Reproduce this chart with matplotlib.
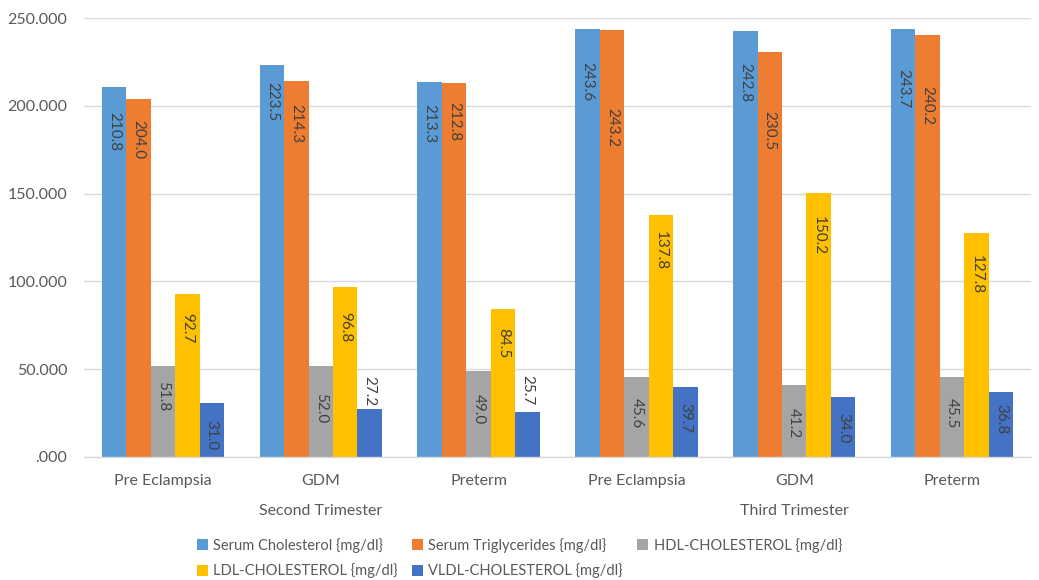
import matplotlib
matplotlib.use("Agg")
import matplotlib.pyplot as plt
from matplotlib.ticker import FuncFormatter, MultipleLocator
import numpy as np

categories = ["Pre Eclampsia", "GDM", "Preterm", "Pre Eclampsia", "GDM", "Preterm"]
trimesters = ["Second Trimester", "Third Trimester"]
series_names = ["Serum Cholesterol {mg/dl}", "Serum Triglycerides {mg/dl}",
                "HDL-CHOLESTEROL {mg/dl}", "LDL-CHOLESTEROL {mg/dl}",
                "VLDL-CHOLESTEROL {mg/dl}"]
serum_cholesterol = [210.8, 223.5, 213.3, 243.6, 242.8, 243.7]
serum_triglycerides = [204.0, 214.3, 212.8, 243.2, 230.5, 240.2]
hdl_cholesterol = [51.8, 52.0, 49.0, 45.6, 41.2, 45.5]
ldl_cholesterol = [92.7, 96.8, 84.5, 137.8, 150.2, 127.8]
vldl_cholesterol = [31.0, 27.2, 25.7, 39.7, 34.0, 36.8]

series = [serum_cholesterol, serum_triglycerides, hdl_cholesterol,
          ldl_cholesterol, vldl_cholesterol]
colors = ["#5B9BD5", "#ED7D31", "#A5A5A5", "#FFC000", "#4472C4"]

# label centre distance below bar top (pixels); negative = above bar
label_offsets = [
    [45, 37, 41, 52, 52, 59],
    [41, 43, 38, 98, 78, 70],
    [30, 42, 38, 36, 38, 36],
    [34, 40, 35, 36, 42, 42],
    [33, -18, -22, 31, 31, 27],
]

plt.rcParams['font.family'] = ['Lato', 'DejaVu Sans']
text_color = "#595959"

fig = plt.figure(figsize=(10.39, 5.80), dpi=100)
ax = fig.add_axes([84 / 1039, (580 - 457) / 580, (1031 - 84) / 1039, (457 - 18) / 580])

x = np.arange(len(categories))
w = 0.155
handles = []
for j, (vals, col, name) in enumerate(zip(series, colors, series_names)):
    xs = x + (j - 2) * w
    b = ax.bar(xs, vals, width=w, color=col, label=name, zorder=2)
    handles.append(b)
    for xi, v, off in zip(xs, vals, label_offsets[j]):
        ax.annotate(f"{v:.1f}", xy=(xi, v), xytext=(0, -off),
                    textcoords='offset pixels', rotation=270,
                    ha='center', va='center', fontsize=11, color="#404040",
                    zorder=3)

ax.set_xlim(-0.5, len(categories) - 0.5)
ax.set_ylim(0, 250)
ax.yaxis.set_major_locator(MultipleLocator(50))
ax.yaxis.set_major_formatter(FuncFormatter(
    lambda v, p: (f"{v:.3f}" if v != 0 else ".000")))
ax.grid(axis='y', color="#D9D9D9", linewidth=1, zorder=0)
for s in ["top", "right", "left"]:
    ax.spines[s].set_visible(False)
ax.spines["bottom"].set_color("#D9D9D9")
ax.spines["bottom"].set_linewidth(1)
ax.tick_params(axis='both', length=0, labelsize=11.5, labelcolor=text_color)
ax.tick_params(axis='y', pad=12)
ax.tick_params(axis='x', pad=12)
ax.set_xticks(x)
ax.set_xticklabels(categories)

for k, t in enumerate(trimesters):
    ax.annotate(t, xy=(3 * k + 1, 0), xycoords=('data', 'axes fraction'),
                xytext=(0, -54), textcoords='offset pixels',
                ha='center', va='center', fontsize=11.5, color=text_color)

order = [0, 3, 1, 4, 2]
fig.legend([handles[i] for i in order], [series_names[i] for i in order],
           loc='center', bbox_to_anchor=(0.5, (580 - 558) / 580),
           ncol=3, frameon=False, fontsize=10.5, labelcolor=text_color,
           handlelength=0.75, handleheight=0.75, handletextpad=0.35,
           columnspacing=1.0, labelspacing=0.75, borderpad=0)

fig.savefig("out.png", dpi=100)
